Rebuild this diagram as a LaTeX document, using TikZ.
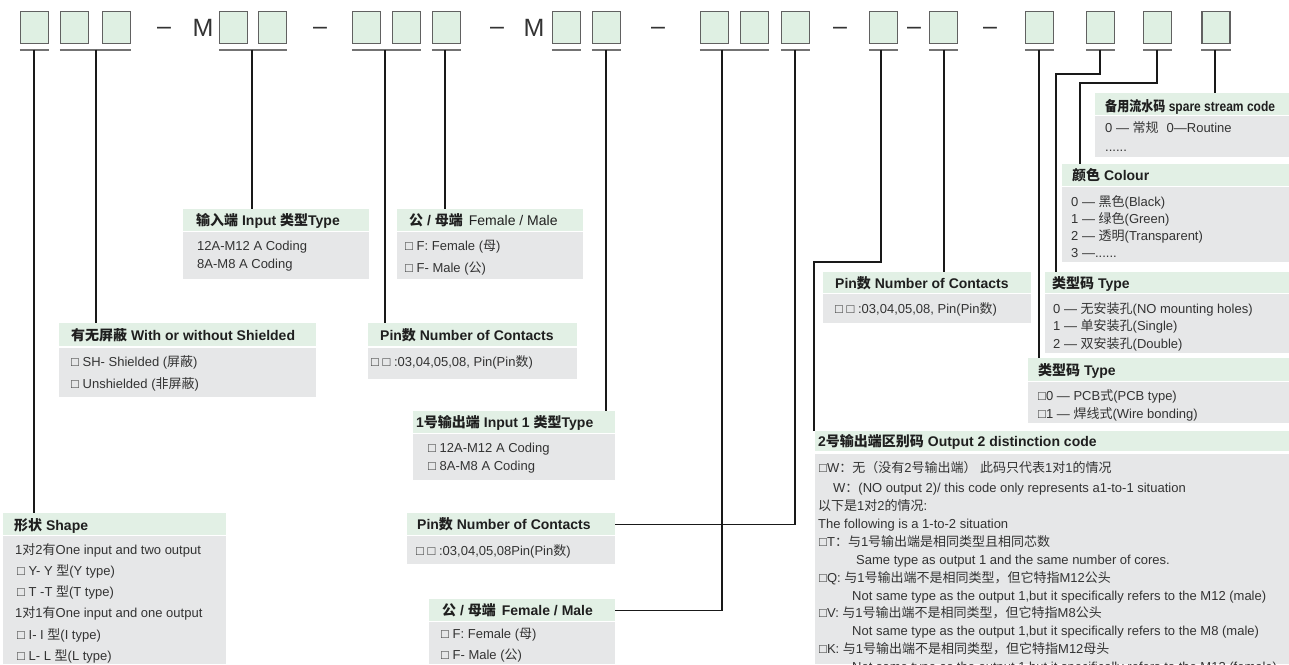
\documentclass[tikz,border=0pt]{standalone}
\usepackage{fontspec}
\usepackage{graphicx}
\setmainfont{Liberation Sans}
\newfontfamily\cjk{Noto Sans CJK SC}
\definecolor{boxgreen}{HTML}{DFF0E3}
\definecolor{hdgreen}{HTML}{E2F0E5}
\definecolor{bodygray}{HTML}{E6E7E8}

% Chinese characters switch to the CJK font by themselves
\XeTeXinterchartokenstate=1
\chardef\hanzi=42
\count255=32
\loop \XeTeXcharclass\count255=0 \ifnum\count255<126 \advance\count255 by 1 \repeat
\count255="4E00
\loop \XeTeXcharclass\count255=\hanzi \ifnum\count255<"9FFF \advance\count255 by 1 \repeat
\XeTeXcharclass"2014=0
\XeTeXcharclass"25A1=0
\XeTeXcharclass"FF08=\hanzi
\XeTeXcharclass"FF09=\hanzi
\XeTeXcharclass"FF0C=\hanzi
\XeTeXcharclass"FF1A=\hanzi
\XeTeXinterchartoks 0 \hanzi = {\cjk}
\XeTeXinterchartoks 4095 \hanzi = {\cjk}
\XeTeXinterchartoks \hanzi 0 = {\rmfamily}
\XeTeXinterchartoks \hanzi 4095 = {\rmfamily}

\newcommand\moredots{......}

% label box: name, x left, x right, header top, header bottom, body top, body bottom
\newcommand\lbox[7]{%
	\pgfmathsetmacro\lbw{#3-#2}\pgfmathsetmacro\lhh{#5-#4}\pgfmathsetmacro\lbh{#7-#6}%
	\node[hdr, minimum width=\lbw pt, minimum height=\lhh pt] (#1H) at (#2,#4) {};
	\node[bdy, minimum width=\lbw pt, minimum height=\lbh pt] (#1B) at (#2,#6) {};}

\begin{document}
\begin{tikzpicture}[x=1pt, y=-1pt, line join=miter, font=\fontsize{13}{15}\selectfont,
	codebox/.style={draw=black!62, fill=boxgreen, line width=1.2pt, minimum width=28pt, minimum height=32pt, inner sep=0pt},
	sepsym/.style={font=\fontsize{25}{25}\selectfont, text=black!80, inner sep=0pt, anchor=base},
	hdr/.style={fill=hdgreen, inner sep=0pt, anchor=north west},
	bdy/.style={fill=bodygray, inner sep=0pt, anchor=north west},
	hd/.style={font=\fontsize{14}{15}\selectfont\bfseries, text=black!88, inner sep=0pt, anchor=base west},
	tx/.style={text=black!80, inner sep=0pt, anchor=base west},
	tick/.style={line width=1.4pt, black!55},
	wire/.style={line width=1.3pt, black!90}]
	\useasboundingbox (0,0) rectangle (1289,664);
	
	% code row
	\foreach \x [count=\i] in {34.5,74.5,116.5,233.5,272.5,366.5,406.5,446.5,566.5,606.5,714.5,754.5,795.5,883.5,943.5,1039.5,1100.5,1157.5,1216}
		\node[codebox] (b\i) at (\x,27.5) {};
	\foreach \x [count=\i] in {164,320,497,658,840,914,990}
		\node[sepsym] (d\i) at (\x,34) {–};
	\node[sepsym] (m1) at (203,36.5) {M};
	\node[sepsym] (m2) at (534,36.5) {M};
	\foreach \a/\b in {1/1,2/3,4/5,6/7,8/8,9/9,10/10,11/12,13/13,14/14,15/15,16/16,17/17,18/18,19/19}
		\draw[tick] ([yshift=-6pt]b\a.south west) -- ([yshift=-6pt]b\b.south east);
	\foreach \n/\x in {1/34,2/96,3/252,4/385,5/445,6/606,7/722,8/795,9/881,10/944,11/1039,12/1100,13/1157,14/1215}
		\coordinate (s\n) at (\x,49.5);
	\coordinate (k9) at (814,262);
	\coordinate (k12) at (1056,74);
	\coordinate (k13) at (1080,83);
	
	% label boxes
	\lbox{inType}{183}{369}{209}{231}{232}{279}
	\lbox{fmA}{397}{583}{209}{231}{232}{279}
	\lbox{shield}{59}{316}{323}{346}{348}{397}
	\lbox{pinA}{368}{577}{323}{346}{348}{379}
	\lbox{outA}{413}{615}{411}{433}{434}{480}
	\lbox{shape}{3}{226}{513}{535}{536}{664}
	\lbox{pinB}{407}{615}{513}{535}{536}{564}
	\lbox{fmB}{429}{615}{599}{621}{622}{664}
	\lbox{spare}{1095}{1289}{93}{115}{116}{157}
	\lbox{colour}{1062}{1289}{164}{186}{187}{262}
	\lbox{typeA}{1045}{1289}{272}{293}{294}{353}
	\lbox{typeB}{1028}{1289}{358}{381}{382}{423}
	\lbox{pinC}{823}{1031}{272}{293}{294}{323}
	\lbox{out2}{815}{1289}{431}{451}{454}{664}
	
	% connectors
	\draw[wire] (s1) -- (s1 |- shapeH.north);
	\draw[wire] (s2) -- (s2 |- shieldH.north);
	\draw[wire] (s3) -- (s3 |- inTypeH.north);
	\draw[wire] (s4) -- (s4 |- pinAH.north);
	\draw[wire] (s5) -- (s5 |- fmAH.north);
	\draw[wire] (s6) -- (s6 |- outAH.north);
	\draw[wire] (s7) |- (fmBH.east);
	\draw[wire] (s8) |- (pinBH.east);
	\draw[wire] (s9) |- (k9) -- (k9 |- out2H.north);
	\draw[wire] (s10) -- (s10 |- pinCH.north);
	\draw[wire] (s11) -- (s11 |- typeBH.north);
	\draw[wire] (s12) |- (k12) -- (k12 |- typeAH.north);
	\draw[wire] (s13) |- (k13) -- (k13 |- colourH.north);
	\draw[wire] (s14) -- (s14 |- spareH.north);
	
	% headers
	\node[hd] (inTypeT) at (196,225) {输入端 Input 类型Type};
	\node[hd] (fmAT) at (409,225) {公 / 母端\hspace{6pt}{\mdseries Female / Male}};
	\node[hd] (shieldT) at (71,340) {有无屏蔽 With or without Shielded};
	\node[hd] (pinAT) at (380,340) {Pin数 Number of Contacts};
	\node[hd] (outAT) at (416,427) {1号输出端 Input 1 类型Type};
	\node[hd] (shapeT) at (14,530) {形状 Shape};
	\node[hd] (pinBT) at (417,529) {Pin数 Number of Contacts};
	\node[hd] (fmBT) at (442,615) {公 / 母端\hspace{6pt}Female / Male};
	\node[hd] (spareT) at (1105,111) {\scalebox{0.86}[1]{备用流水码 spare stream code}};
	\node[hd] (colourT) at (1072,180) {颜色 Colour};
	\node[hd] (typeAT) at (1052,288) {类型码 Type};
	\node[hd] (typeBT) at (1038,375) {类型码 Type};
	\node[hd] (pinCT) at (835,288) {Pin数 Number of Contacts};
	\node[hd] (out2T) at (818,446) {2号输出端区别码 Output 2 distinction code};
	
	% body texts
	\foreach \t [count=\i] in {12A-M12 A Coding, 8A-M8 A Coding}
		\node[tx] (inType\i) at (197,232+18*\i) {\t};
	\foreach \t [count=\i] in {□ F: Female (母), □ F- Male (公)}
		\node[tx] (fmA\i) at (405,228+22*\i) {\t};
	\foreach \t [count=\i] in {□ SH- Shielded (屏蔽), □ Unshielded (非屏蔽)}
		\node[tx] (shield\i) at (71,344+22*\i) {\t};
	\node[tx] (pinA1) at (371,366) {□ □ :03,04,05,08, Pin(Pin数)};
	\foreach \t [count=\i] in {□ 12A-M12 A Coding, □ 8A-M8 A Coding}
		\node[tx] (outA\i) at (428,434+18*\i) {\t};
	\foreach \x/\t [count=\i] in {15/1对2有One input and two output, 17/□ Y- Y 型(Y type), 17/□ T -T 型(T type),
		15/1对1有One input and one output, 17/□ I- I 型(I type), 17/□ L- L 型(L type)}
		\node[tx] (shape\i) at (\x,533+21.2*\i) {\t};
	\node[tx] (pinB1) at (416,555) {□ □ :03,04,05,08Pin(Pin数)};
	\foreach \t [count=\i] in {□ F: Female (母), □ F- Male (公)}
		\node[tx] (fmB\i) at (441,617+21*\i) {\t};
	\node[tx] (spare1) at (1105,132) {0 — 常规\hspace{8pt}0—Routine};
	\node[tx] (spare2) at (1105,151) {\moredots};
	\foreach \t [count=\i] in {0 — 黑色(Black), 1 — 绿色(Green), 2 — 透明(Transparent), 3 —\moredots}
		\node[tx] (colour\i) at (1071,188.7+17.3*\i) {\t};
	\foreach \t [count=\i] in {0 — 无安装孔(NO mounting holes), 1 — 单安装孔(Single), 2 — 双安装孔(Double)}
		\node[tx] (typeA\i) at (1053,295.5+17.5*\i) {\t};
	\foreach \t [count=\i] in {□0 — PCB式(PCB type), □1 — 焊线式(Wire bonding)}
		\node[tx] (typeB\i) at (1038,382+18*\i) {\t};
	\node[tx] (pinC1) at (835,313) {□ □ :03,04,05,08, Pin(Pin数)};
	\node[tx] (out2a) at (819,472) {□W：无（没有2号输出端） 此码只代表1对1的情况};
	\node[tx] (out2b) at (833,492) {W：(NO output 2)/ this code only represents a1-to-1 situation};
	\node[tx] (out2c) at (818,510) {以下是1对2的情况:};
	\node[tx] (out2d) at (818,528) {The following is a 1-to-2 situation};
	\node[tx] (out2e) at (819,546) {□T：与1号输出端是相同类型且相同芯数};
	\node[tx] (out2f) at (856,564) {Same type as output 1 and the same number of cores.};
	\node[tx] (out2g) at (819,582) {□Q: 与1号输出端不是相同类型，但它特指M12公头};
	\node[tx] (out2h) at (852,600) {Not same type as the output 1,but it specifically refers to the M12 (male)};
	\node[tx] (out2i) at (819,617) {□V: 与1号输出端不是相同类型，但它特指M8公头};
	\node[tx] (out2j) at (852,635) {Not same type as the output 1,but it specifically refers to the M8 (male)};
	\node[tx] (out2k) at (819,653) {□K: 与1号输出端不是相同类型，但它特指M12母头};
	\node[tx] (out2l) at (852,671) {Not same type as the output 1,but it specifically refers to the M12 (female)};
\end{tikzpicture}
\end{document}
